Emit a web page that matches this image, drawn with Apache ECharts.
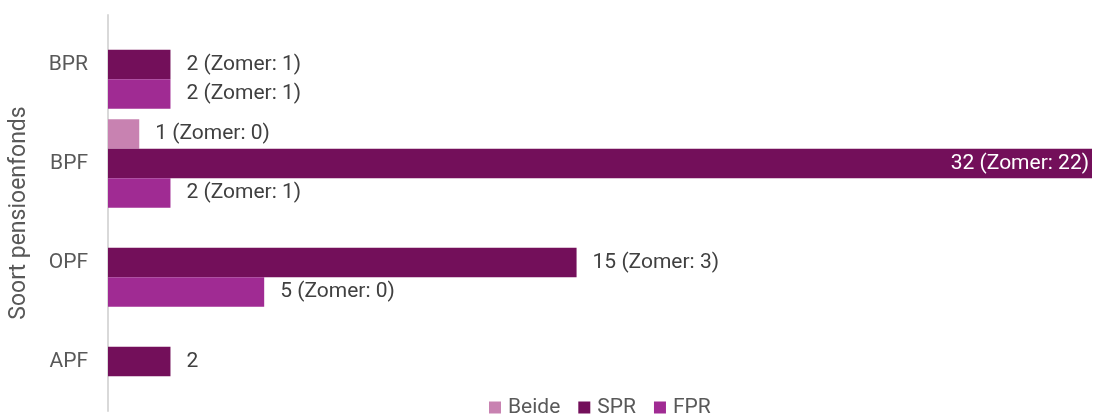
<!DOCTYPE html>
<html>
<head>
<meta charset="utf-8">
<script src="https://cdn.jsdelivr.net/npm/echarts@6/dist/echarts.min.js"></script>
<style>html,body{margin:0;padding:0;background:#fff;}#c{width:1095px;height:416px;}</style>
</head>
<body>
<div id="c"></div>
<script>
const categories = ['BPR', 'BPF', 'OPF', 'APF'];
const seriesNames = ['Beide', 'SPR', 'FPR'];
const beideValues = [null, 1, null, null];
const beideZomer = [null, 0, null, null];
const sprValues = [2, 32, 15, 2];
const sprZomer = [1, 22, 3, null];
const fprValues = [2, 2, 5, null];
const fprZomer = [1, 1, 0, null];
const axisTitle = 'Soort pensioenfonds';

const colors = ['#C882B1', '#730F5A', '#A02B93'];
const xMax = 31.5;
const font = 'Roboto, "Liberation Sans", sans-serif';

function makeData(vals, zom) {
  return vals.map((v, i) => {
    if (v == null) return null;
    const item = { value: v, zomer: zom[i] };
    if (v >= xMax) {
      item.label = { position: 'insideRight', color: '#ffffff', distance: 3 };
    }
    return item;
  });
}
function fmt(p) {
  const z = p.data && p.data.zomer;
  return z == null ? String(p.value) : p.value + ' (Zomer: ' + z + ')';
}
const allVals = [beideValues, sprValues, fprValues];
const allZom = [beideZomer, sprZomer, fprZomer];

const chart = echarts.init(document.getElementById('c'), null, { renderer: 'canvas' });
chart.setOption({
  animation: false,
  textStyle: { fontFamily: font },
  legend: {
    data: seriesNames,
    top: 397,
    left: 489,
    padding: 0,
    itemWidth: 12,
    itemHeight: 12,
    itemGap: 18,
    icon: 'rect',
    textStyle: { color: '#595959', fontSize: 21, fontFamily: font, padding: [0, 0, 0, 2] }
  },
  grid: { left: 108, right: 3, top: 15, bottom: 5, containLabel: false },
  xAxis: {
    type: 'value', min: 0, max: xMax,
    axisLine: { show: false }, axisTick: { show: false },
    axisLabel: { show: false }, splitLine: { show: false }
  },
  yAxis: {
    type: 'category', data: categories, inverse: true,
    axisLine: { show: true, lineStyle: { color: '#d9d9d9', width: 2 } },
    axisTick: { show: false },
    axisLabel: { color: '#595959', fontSize: 21, margin: 20, fontFamily: font },
    name: axisTitle, nameLocation: 'middle', nameGap: 77,
    nameTextStyle: { color: '#595959', fontSize: 23, fontFamily: font }
  },
  series: seriesNames.map((n, k) => ({
    name: n,
    type: 'bar',
    data: makeData(allVals[k], allZom[k]),
    barGap: '0%',
    barCategoryGap: '10.6%',
    clip: true,
    itemStyle: { color: colors[k] },
    label: {
      show: true, position: 'right', distance: 16,
      color: '#404040', fontSize: 21, fontFamily: font,
      formatter: fmt
    }
  }))
});
</script>
</body>
</html>
